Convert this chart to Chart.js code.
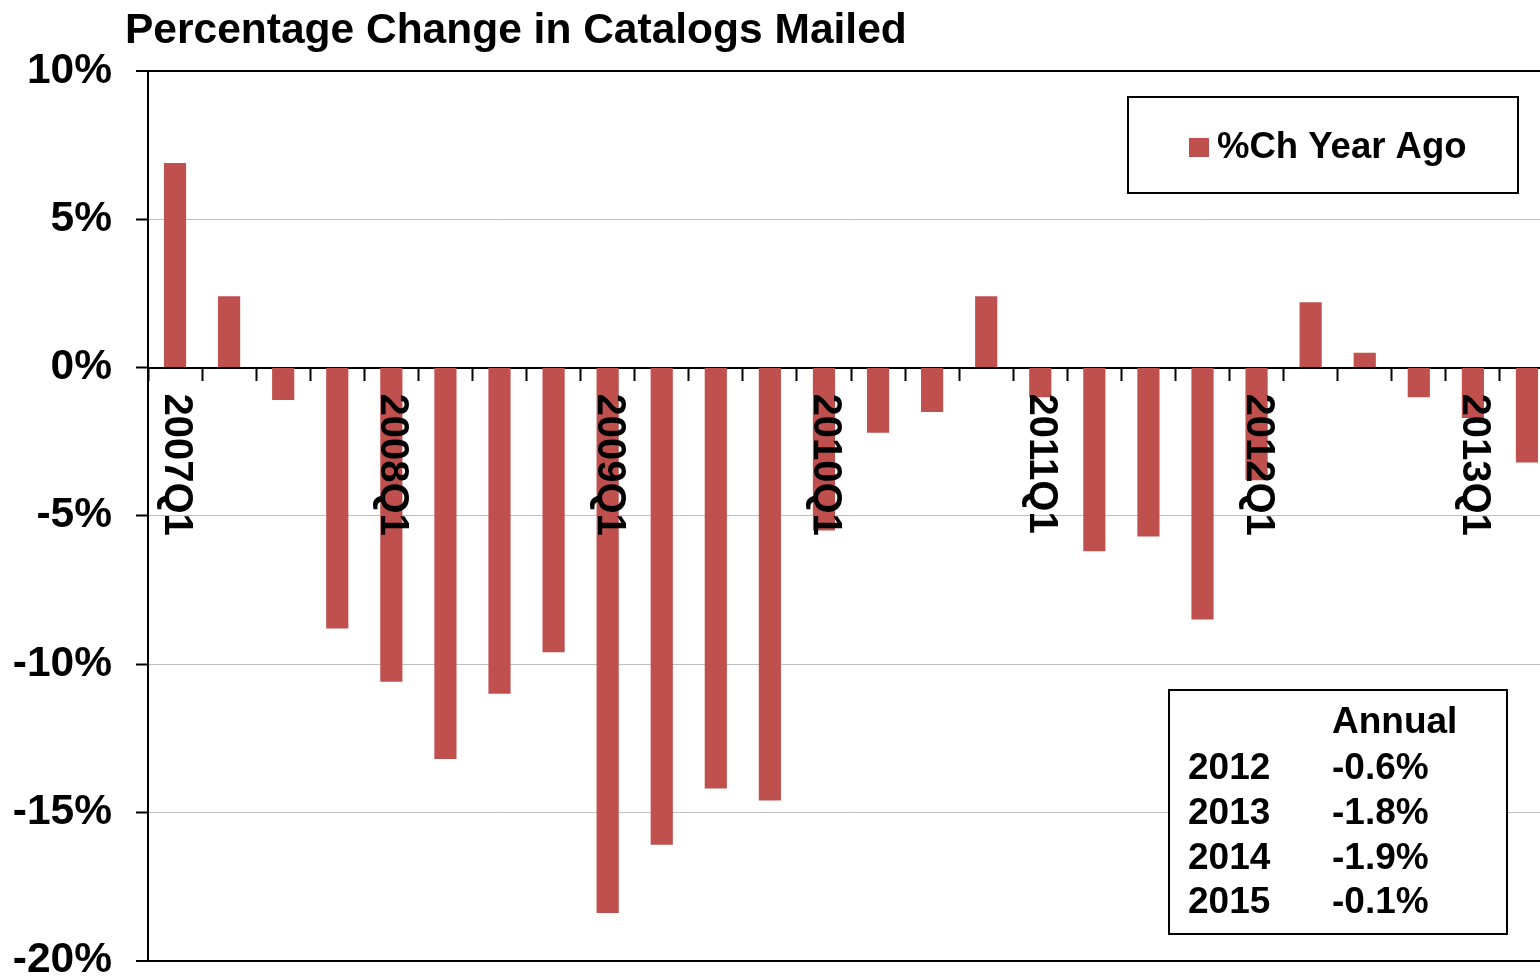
<!DOCTYPE html>
<html>
<head>
<meta charset="utf-8">
<title>Percentage Change in Catalogs Mailed</title>
<script src="https://cdn.jsdelivr.net/npm/chart.js@4.4.1/dist/chart.umd.min.js"></script>
<style>
    html, body { margin: 0; padding: 0; background: #fff; overflow: hidden; }
    #wrap { width: 1540px; height: 978px; overflow: hidden; }
    canvas { display: block; }
</style>
</head>
<body>
<div id="wrap"><canvas id="chart-catalogs" width="1554" height="1010"></canvas></div>
<script>
// Quarterly categories, only the Q1 ones get a label under the zero line
var quarters = [
    '2007Q1', '2007Q2', '2007Q3', '2007Q4',
    '2008Q1', '2008Q2', '2008Q3', '2008Q4',
    '2009Q1', '2009Q2', '2009Q3', '2009Q4',
    '2010Q1', '2010Q2', '2010Q3', '2010Q4',
    '2011Q1', '2011Q2', '2011Q3', '2011Q4',
    '2012Q1', '2012Q2', '2012Q3', '2012Q4',
    '2013Q1', '2013Q2'
];

// %Ch Year Ago
var pctChange = [
    6.9, 2.4, -1.1, -8.8,
    -10.6, -13.2, -11.0, -9.6,
    -18.4, -16.1, -14.2, -14.6,
    -5.5, -2.2, -1.5, 2.4,
    -1.0, -6.2, -5.7, -8.5,
    -3.8, 2.2, 0.5, -1.0,
    -1.7, -3.2
];

var yMin = -20;
var yMax = 10;
var yStep = 5;

var chartTitle = 'Percentage Change in Catalogs Mailed';

// Annual forecast table (bottom right)
var annualHeader = 'Annual';
var annualYears = ['2012', '2013', '2014', '2015'];
var annualChange = ['-0.6%', '-1.8%', '-1.9%', '-0.1%'];

(function () {
    'use strict';

    var FONT = '"Liberation Sans", Arial, Helvetica, sans-serif';
    var BAR_COLOR = '#C0504D';

    /**
     * Title, left aligned a bit to the left of the plot area.
     */
    var titleText = {
        id: 'titleText',
        afterDraw: function (chart) {
            var ctx = chart.ctx;
            ctx.save();
            ctx.fillStyle = '#000';
            ctx.font = 'bold 42.5px ' + FONT;
            ctx.textAlign = 'left';
            ctx.textBaseline = 'middle';
            ctx.fillText(chartTitle, 125, 31);
            ctx.restore();
        }
    };

    /**
     * Rotated year labels sitting just below the zero line.
     */
    var quarterLabels = {
        id: 'quarterLabels',
        afterDatasetsDraw: function (chart) {
            var ctx = chart.ctx;
            var x = chart.scales.x;
            var y0 = chart.scales.y.getPixelForValue(0);
            ctx.save();
            ctx.fillStyle = '#000';
            ctx.font = 'bold 40px ' + FONT;
            ctx.textAlign = 'left';
            ctx.textBaseline = 'middle';
            quarters.forEach(function (q, i) {
                if (q.slice(-2) !== 'Q1') return;
                ctx.save();
                ctx.translate(x.getPixelForValue(i) + 1, y0 + 26);
                ctx.rotate(Math.PI / 2);
                ctx.fillText(q, 0, 0);
                ctx.restore();
            });
            ctx.restore();
        }
    };

    /**
     * Legend box (top right) and annual table box (bottom right).
     */
    var boxes = {
        id: 'boxes',
        afterDraw: function (chart) {
            var ctx = chart.ctx;
            ctx.save();

            // legend
            ctx.fillStyle = '#fff';
            ctx.fillRect(1128, 97, 390, 96);
            ctx.strokeStyle = '#000';
            ctx.lineWidth = 2;
            ctx.strokeRect(1128, 97, 390, 96);
            ctx.fillStyle = chart.data.datasets[0].backgroundColor;
            ctx.fillRect(1189, 138, 20, 19);
            ctx.fillStyle = '#000';
            ctx.font = 'bold 36.5px ' + FONT;
            ctx.textAlign = 'left';
            ctx.textBaseline = 'middle';
            ctx.fillText(chart.data.datasets[0].label, 1217, 148);

            // annual table
            ctx.fillStyle = '#fff';
            ctx.fillRect(1169, 690, 338, 244);
            ctx.strokeRect(1169, 690, 338, 244);
            ctx.fillStyle = '#000';
            ctx.font = 'bold 37px ' + FONT;
            ctx.fillText(annualHeader, 1332, 723);
            annualYears.forEach(function (yr, i) {
                var yy = 769 + i * 44.7;
                ctx.fillText(yr, 1188, yy);
                ctx.fillText(annualChange[i], 1332, yy);
            });

            ctx.restore();
        }
    };

    var canvas = document.getElementById('chart-catalogs');

    new Chart(canvas, {
        type: 'bar',
        data: {
            labels: quarters,
            datasets: [{
                label: '%Ch Year Ago',
                data: pctChange,
                backgroundColor: BAR_COLOR,
                borderWidth: 0,
                categoryPercentage: 1,
                barPercentage: 0.41,
            }],
        },
        options: {
            responsive: false,
            animation: false,
            devicePixelRatio: 1,
            layout: { padding: { left: 0, right: 0, top: 71, bottom: 0 } },
            plugins: {
                legend: { display: false },
                tooltip: { enabled: false },
                title: { display: false },
            },
            scales: {
                x: {
                    position: { y: 0 },
                    ticks: { display: false },
                    grid: {
                        offset: true,
                        drawOnChartArea: false,
                        drawTicks: true,
                        tickLength: 12,
                        tickColor: '#000',
                        tickWidth: 2,
                    },
                    border: { display: true, color: '#000', width: 2 },
                },
                y: {
                    min: yMin,
                    max: yMax,
                    afterFit: function (scale) { scale.width = 148; },
                    ticks: {
                        stepSize: yStep,
                        padding: 24,
                        color: '#000',
                        font: { family: FONT, size: 42.5, weight: 'bold' },
                        callback: function (v) { return v + '%'; },
                    },
                    grid: {
                        color: function (c) {
                            return (c.tick.value === yMax || c.tick.value === yMin) ? '#000' : '#BFBFBF';
                        },
                        lineWidth: function (c) {
                            return (c.tick.value === yMax || c.tick.value === yMin) ? 2 : 1;
                        },
                        tickLength: 12,
                        tickColor: '#000',
                        tickWidth: 2,
                    },
                    border: { display: true, color: '#000', width: 2 },
                },
            },
        },
        plugins: [quarterLabels, boxes, titleText],
    });
})();
</script>
</body>
</html>
